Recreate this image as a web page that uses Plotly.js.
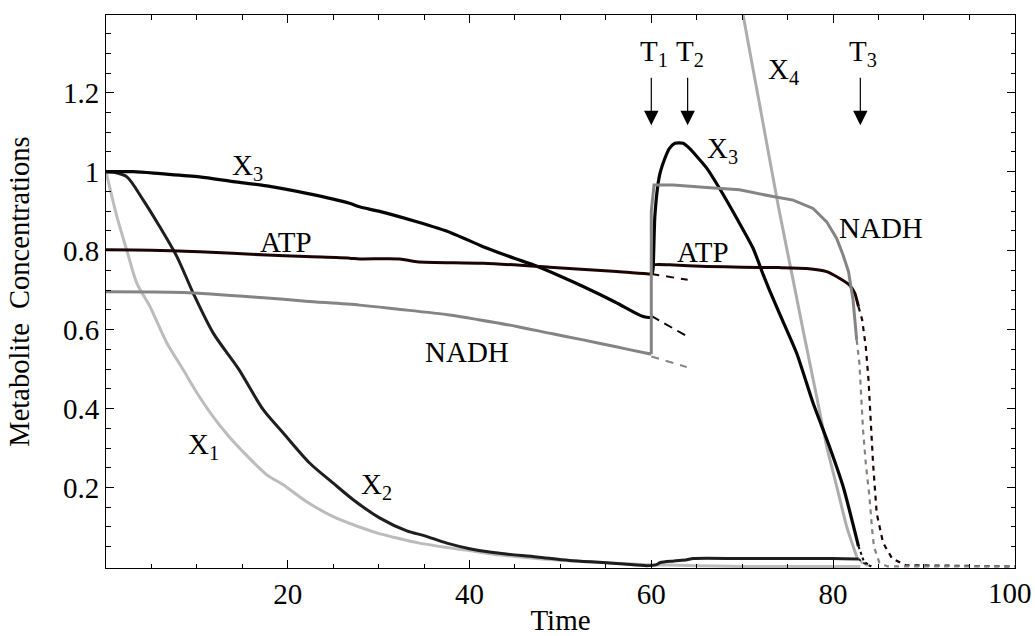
<!DOCTYPE html>
<html>
<head>
<meta charset="utf-8">
<script src="https://cdn.plot.ly/plotly-3.0.1.min.js"></script>
<style>html,body{margin:0;padding:0;background:#fff;}#chart{width:1035px;height:636px;}</style>
</head>
<body>
<div id="chart"></div>
<script>
// ---- data ----
const x1T = [0,1.2,2.3,3.4,4.8,6.7,8.5,10,11.8,13.5,15.1,17.7,19.5,22,25,27.5,29.8,32,34.5,37.8,40,42.6,45,48,52,56,60,63,66.8,70,75,80,83];
const x1V = [1,0.886,0.80,0.717,0.66,0.566,0.498,0.44,0.379,0.33,0.29,0.232,0.207,0.165,0.126,0.103,0.085,0.072,0.059,0.047,0.04,0.031,0.025,0.019,0.013,0.008,0.004,0.003,0.001,0,0,0,0];

const x2T = [0,1,2.3,4.1,5.9,7.8,9.6,11.8,14.6,17.3,19.5,22.4,25,27.2,30.1,33.1,35,37.5,40,42.6,47.4,51,54.7,57,59.5,60.5,61,62.5,63.9,64.6,70,75,80,82.8];
const x2V = [1,0.998,0.987,0.928,0.861,0.785,0.692,0.591,0.50,0.397,0.338,0.262,0.211,0.169,0.123,0.09,0.078,0.059,0.045,0.035,0.024,0.015,0.010,0.006,0.002,0.004,0.01,0.014,0.017,0.02,0.02,0.02,0.02,0.019];
const x2EndT = [82.8,83.4,84.2];
const x2EndV = [0.019,0.008,0];

const x3aT = [0,3,6,10.3,14,17.7,22.1,26.8,27.9,30,34.2,38,41.5,45,47,50,52.5,56,59.1,60];
const x3aV = [1,1,0.995,0.987,0.975,0.964,0.945,0.92,0.911,0.90,0.873,0.845,0.81,0.78,0.764,0.735,0.709,0.67,0.633,0.63];
const x3DashT = [60,64];
const x3DashV = [0.635,0.582];
const x3bT = [60.1,60.2,60.4,60.9,61.5,62,62.6,63.5,64.2,66.1,67.5,69.4,71.2,72.3,73,74.1,76,77.8,79.6,81.1,82.8];
const x3bV = [0.74,0.755,0.89,0.99,1.034,1.059,1.072,1.072,1.059,1.009,0.958,0.882,0.806,0.74,0.70,0.641,0.54,0.414,0.304,0.203,0.051];
const x3EndT = [82.8,83.4,84.2];
const x3EndV = [0.051,0.012,0];

const x4T = [69,70.1,72,74,75.6,76.7,78.2,79.3,80.4,81.5,82.6];
const x4V = [1.535,1.397,1.16,0.91,0.726,0.599,0.43,0.304,0.203,0.101,0.025];
const x4EndT = [82.6,83.3,84];
const x4EndV = [0.025,0.006,0];

const atpAT = [0,5,10.3,17.7,22,26.8,27.9,32.3,34.2,41.5,48.8,56.2,59.7,60];
const atpAV = [0.802,0.801,0.797,0.789,0.785,0.781,0.779,0.779,0.772,0.768,0.758,0.747,0.741,0.741];
const atpDashT = [60,64];
const atpDashV = [0.741,0.726];
const atpBT = [60,60.3,62,66.1,70,74,77.1,79.3,80.7,81.8,82.4,82.8];
const atpBV = [0.745,0.764,0.764,0.760,0.758,0.757,0.755,0.747,0.73,0.713,0.692,0.658];
const atpEndT = [82.8,83.2,83.6,83.9,84.1,84.4,84.8,85.5,86.5,88,100];
const atpEndV = [0.658,0.625,0.557,0.473,0.388,0.262,0.135,0.06,0.02,0.003,0];

const nadhAT = [0,8.5,17.7,22,27.9,32,37.8,41,45.2,49,52.5,56,59.5,60];
const nadhAV = [0.696,0.694,0.68,0.672,0.662,0.652,0.637,0.625,0.608,0.59,0.574,0.557,0.54,0.538];
const nadhDashT = [60,61,63.9];
const nadhDashV = [0.532,0.525,0.505];
const nadhBT = [60,60,60.3,62.4,66.1,69.7,73.4,75.6,77.8,79.3,80.4,81.1,81.7,82.2,82.6];
const nadhBV = [0.538,0.9,0.966,0.966,0.96,0.954,0.937,0.928,0.907,0.873,0.831,0.789,0.747,0.675,0.574];
const nadhEndT = [82.6,82.9,83.1,83.3,83.6,84,84.3,84.5,85.1,86,100];
const nadhEndV = [0.574,0.515,0.43,0.346,0.262,0.177,0.093,0.05,0.009,0,0];

const xTickVals = [20,40,60,80,100];
const xTickText = ['20','40','60','80',''];   // '100' is drawn as an annotation so it stays inside the page
const lastXTickLabel = '100';
const yTickVals = [0.2,0.4,0.6,0.8,1,1.2];
const yTickText = ['0.2','0.4','0.6','0.8','1','1.2'];

// labels: [text, x, y]
const curveLabels = [
  ['X<sub>3</sub>',15.6,1.012],
  ['ATP',19.8,0.823],
  ['NADH',39.7,0.543],
  ['X<sub>1</sub>',10.7,0.306],
  ['X<sub>2</sub>',29.8,0.204],
  ['X<sub>3</sub>',67.8,1.055],
  ['ATP',65.7,0.797],
  ['X<sub>4</sub>',74.6,1.255],
  ['NADH',85.3,0.857]
];
const eventNames = ['T<sub>1</sub>','T<sub>2</sub>','T<sub>3</sub>'];
const eventTimes = [60,64,83];

// ---- colours ----
const cX1 = '#bcbcbc', cX2 = '#1e1e1e', cX3 = '#050505', cX4 = '#adadad', cATP = '#1c0404', cNADH = '#848484';

function tr(x, y, color, width, dash, smooth){
  const line = {color:color, width:width, dash:dash||'solid'};
  if (smooth) { line.shape = 'spline'; line.smoothing = smooth; }
  return {x:x, y:y, type:'scatter', mode:'lines', hoverinfo:'skip', showlegend:false, line:line};
}

const traces = [
  tr(x1T, x1V, cX1, 3, null, 0.8),
  tr(x4T, x4V, cX4, 3, null, 0.6),
  tr(x4EndT, x4EndV, cX4, 2, '3px,3px'),
  tr(x2T, x2V, cX2, 3, null, 0.8),
  tr(x2EndT, x2EndV, cX2, 2, '3px,3px'),
  tr(x3aT, x3aV, cX3, 3.2, null, 0.8),
  tr(x3DashT, x3DashV, cX3, 2, '9px,6px'),
  tr(x3bT, x3bV, cX3, 3.2, null, 0.6),
  tr(x3EndT, x3EndV, cX3, 2, '3px,3px'),
  tr(atpAT, atpAV, cATP, 3, null, 0.8),
  tr(atpDashT, atpDashV, cATP, 2, '8px,7px'),
  tr(atpBT, atpBV, cATP, 3, null, 0.5),
  tr(atpEndT, atpEndV, cATP, 2.2, '5px,5px'),
  tr(nadhAT, nadhAV, cNADH, 3, null, 0.8),
  tr(nadhDashT, nadhDashV, cNADH, 2, '8px,7px'),
  tr(nadhBT, nadhBV, cNADH, 3),
  tr(nadhEndT, nadhEndV, cNADH, 2.2, '5px,5px')
];

const FONT = 'Liberation Serif, Times New Roman, serif';
const annotations = [];
curveLabels.forEach(function(l){
  annotations.push({text:l[0], x:l[1], y:l[2], xref:'x', yref:'y', showarrow:false,
    font:{family:FONT, size:29, color:'#000'}, xanchor:'center', yanchor:'middle'});
});
eventTimes.forEach(function(t, i){
  annotations.push({text:'', x:t, y:1.118, xref:'x', yref:'y', showarrow:true,
    ax:0, ay:-49, arrowhead:2, arrowsize:2.4, arrowwidth:1.2, arrowcolor:'#000'});
  annotations.push({text:eventNames[i], x:t + 0.3, y:1.302, xref:'x', yref:'y', showarrow:false,
    font:{family:FONT, size:29, color:'#000'}, xanchor:'center', yanchor:'middle'});
});
annotations.push({text:lastXTickLabel, x:xTickVals[xTickVals.length-1], xref:'x', xanchor:'right', xshift:19,
  y:-0.0452, yref:'paper', yanchor:'middle', showarrow:false,
  font:{family:FONT, size:29, color:'#000'}});

const minorX = []; for (let v = 5; v < 100; v += 5) if (v % 20 !== 0) minorX.push(v);
const minorY = []; for (let k = 1; k < 28; k++) { const v = +(k*0.05).toFixed(2); if (Math.abs(v/0.2 - Math.round(v/0.2)) > 1e-6) minorY.push(v); }

const layout = {
  width:1035, height:636,
  margin:{l:106, r:20, t:15, b:68, pad:0},
  paper_bgcolor:'#fff', plot_bgcolor:'#fff',
  font:{family:FONT, size:29, color:'#000'},
  xaxis:{
    range:[0,100.02], showgrid:false, zeroline:false,
    showline:true, linecolor:'#000', linewidth:1, mirror:'allticks',
    tickmode:'array', tickvals:xTickVals, ticktext:xTickText,
    ticks:'inside', ticklen:8, tickwidth:1, tickcolor:'#000',
    ticklabeloverflow:'allow',
    tickfont:{family:FONT, size:29, color:'#000'},
    minor:{tickmode:'array', tickvals:minorX, ticks:'inside', ticklen:4.5, tickwidth:1, tickcolor:'#000', showgrid:false},
    title:{text:'Time', font:{family:FONT, size:29, color:'#000'}, standoff:1}
  },
  yaxis:{
    range:[-0.004,1.397], showgrid:false, zeroline:false,
    showline:true, linecolor:'#000', linewidth:1, mirror:'allticks',
    tickmode:'array', tickvals:yTickVals, ticktext:yTickText,
    ticks:'inside', ticklen:8, tickwidth:1, tickcolor:'#000',
    ticklabeloverflow:'allow',
    tickfont:{family:FONT, size:29, color:'#000'},
    minor:{tickmode:'array', tickvals:minorY, ticks:'inside', ticklen:4.5, tickwidth:1, tickcolor:'#000', showgrid:false},
    title:{text:'Metabolite\u00a0 Concentrations', font:{family:FONT, size:28.5, color:'#000'}, standoff:24}
  },
  annotations:annotations
};

Plotly.newPlot('chart', traces, layout, {staticPlot:true, displayModeBar:false});
</script>
</body>
</html>
